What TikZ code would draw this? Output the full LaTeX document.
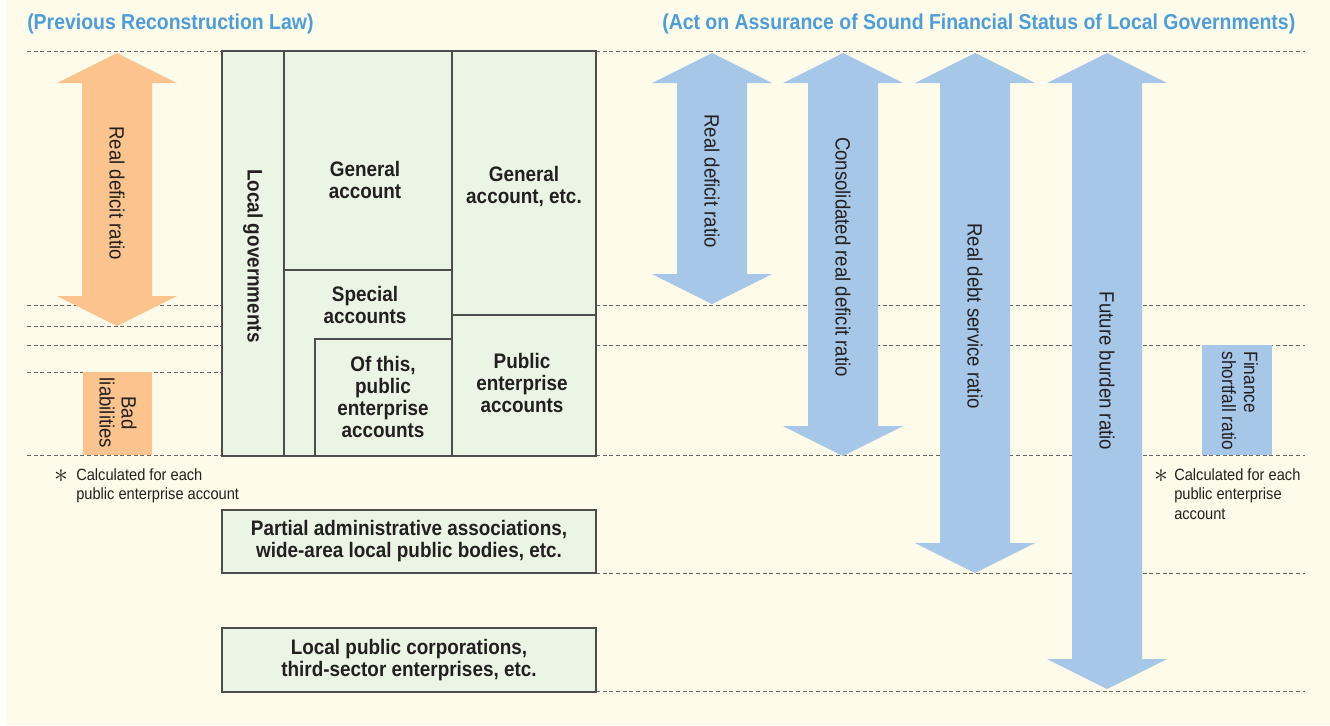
\documentclass[tikz,border=0pt]{standalone}
\usepackage{fontspec}
\setmainfont{Liberation Sans}[FakeStretch=0.9]
\usepackage{tikz}
\usetikzlibrary{positioning}

\definecolor{cream}{HTML}{FFFBEA}
\definecolor{cellgreen}{HTML}{EBF5E5}
\definecolor{cellline}{HTML}{4D4D4D}
\definecolor{orangefill}{HTML}{FBC48E}
\definecolor{bluefill}{HTML}{A6C7E8}
\definecolor{headblue}{HTML}{4D9DD8}
\definecolor{ink}{HTML}{231F20}
\definecolor{guidegray}{HTML}{666666}

\tikzstyle{guide}=[draw=guidegray, dash pattern=on 3pt off 2pt, line width=0.7pt]
\tikzstyle{cell}=[draw=cellline, fill=cellgreen, line width=0.8pt]
\tikzstyle{divider}=[draw=cellline, line width=0.8pt]
\tikzstyle{celltext}=[text=ink, align=center, font=\fontsize{15.75}{16.5}\selectfont\bfseries]
\tikzstyle{ratiotext}=[text=ink, align=center, rotate=-90, font=\fontsize{15.5}{16.5}\selectfont]
\tikzstyle{notetext}=[text=ink, align=left, inner sep=0pt, anchor=north west, font=\fontsize{12.2}{14.8}\selectfont]
\tikzstyle{notemark}=[text=ink, inner sep=0pt, font=\fontsize{20}{20}\selectfont]
\tikzstyle{heading}=[text=headblue, anchor=base west, inner sep=0pt, font=\fontsize{16.2}{18}\selectfont\bfseries]

\begin{document}
\begin{tikzpicture}[x=0.75pt, y=-0.75pt]

    % Background
    \useasboundingbox (0,0) rectangle (1330,725);
    \fill[white] (0,0) rectangle (1330,725);
    \fill[cream] (6,0) rectangle (1330,725);

    % Headings
    \node[heading] (prevlaw) at (27,29) {(Previous Reconstruction Law)};
    \node[heading] (actlaw) at (662,29) {(Act on Assurance of Sound Financial Status of Local Governments)};

    % Guide lines
    \foreach \y in {51,305,326,345,372,455}
        \draw[guide] (27,\y) -- (222,\y);
    \foreach \y in {51,305,345,455,573,691}
        \draw[guide] (596,\y) -- (1305,\y);

    % Local governments block
    \draw[cell] (222,51) rectangle (596,456);
    \draw[divider] (284,51) -- (284,456);
    \draw[divider] (452,51) -- (452,456);
    \draw[divider] (284,270) -- (452,270);
    \draw[divider] (452,315) -- (596,315);
    \draw[divider] (315,456) |- (452,339);

    \node[celltext, rotate=-90] (localgov) at (253,256) {Local governments};
    \node[celltext] (genacc) at (365,180) {General\\account};
    \node[celltext] (genaccetc) at (524,187) {General\\account, etc.};
    \node[celltext] (specacc) at (365,305) {Special\\accounts};
    \node[celltext] (ofthis) at (383,397) {Of this,\\public\\enterprise\\accounts};
    \node[celltext] (pubent) at (522,383) {Public\\enterprise\\accounts};

    % Other bodies
    \draw[cell] (222,510) rectangle (596,573);
    \node[celltext] (partial) at (409,541.5) {Partial administrative associations,\\wide-area local public bodies, etc.};
    \draw[cell] (222,628) rectangle (596,692);
    \node[celltext] (corps) at (409,660) {Local public corporations,\\third-sector enterprises, etc.};

    % Double arrows (centre x / bottom tip)
    \foreach \cx/\yb/\col in {117/326/orangefill, 712/304/bluefill, 843/456/bluefill, 975/573/bluefill, 1107/689/bluefill} {
        \fill[\col] (\cx,53) -- (\cx+60,83) -- (\cx+35,83) -- (\cx+35,\yb-30) -- (\cx+60,\yb-30)
            -- (\cx,\yb) -- (\cx-60,\yb-30) -- (\cx-35,\yb-30) -- (\cx-35,83) -- (\cx-60,83) -- cycle;
    }
    \node[ratiotext] (rdrold) at (117,193) {Real deficit ratio};
    \node[ratiotext] (rdr) at (712,181) {Real deficit ratio};
    \node[ratiotext] (crdr) at (843,257) {Consolidated real deficit ratio};
    \node[ratiotext] (rdsr) at (975,316) {Real debt service ratio};
    \node[ratiotext] (fbr) at (1107,371) {Future burden ratio};

    % Per-account ratios
    \fill[orangefill] (83,372) rectangle (152,455);
    \node[ratiotext] (badliab) at (118,413) {Bad\\liabilities};
    \fill[bluefill] (1202,345) rectangle (1272,455);
    \node[ratiotext, align=left, font=\fontsize{14.4}{16.5}\selectfont] (fsr) at (1240,401) {Finance\\shortfall ratio};

    % Notes
    \node[notemark] (astL) at (61,476) {$\ast$};
    \node[notetext] (noteL) at (76,468) {Calculated for each\\public enterprise account};
    \node[notemark] (astR) at (1161,476) {$\ast$};
    \node[notetext] (noteR) at (1174,468) {Calculated for each\\public enterprise\\account};

\end{tikzpicture}
\end{document}
